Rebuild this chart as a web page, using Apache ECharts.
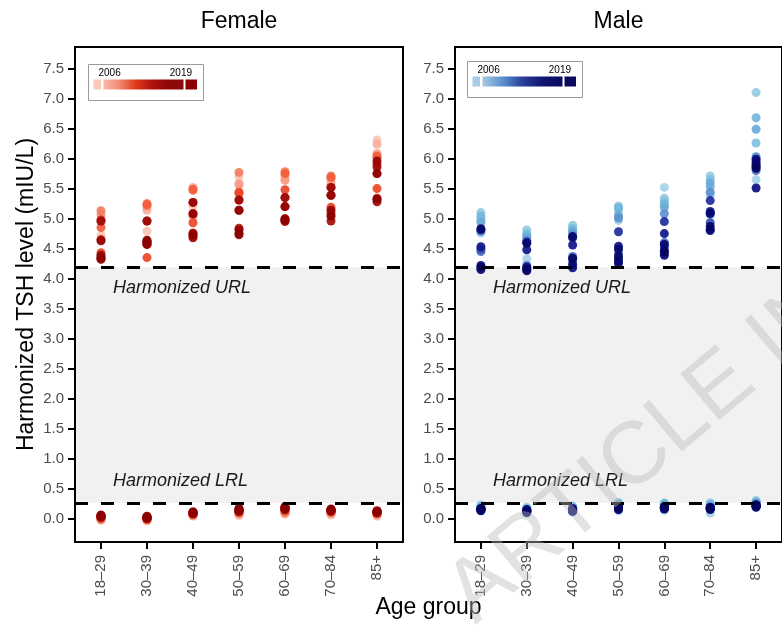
<!DOCTYPE html>
<html><head><meta charset="utf-8">
<script src="https://cdn.jsdelivr.net/npm/echarts@6/dist/echarts.min.js"></script>
<style>html,body{margin:0;padding:0;background:#fff}#c{width:782px;height:627px}</style>
</head><body><div id="c"></div>
<script>
// ---------- data ----------
const ageGroups = ['18–29', '30–39', '40–49', '50–59', '60–69', '70–84', '85+'];
const years = [2006, 2007, 2008, 2009, 2010, 2011, 2012, 2013, 2014, 2015, 2016, 2017, 2018, 2019];
const yTicks = [0, 0.5, 1, 1.5, 2, 2.5, 3, 3.5, 4, 4.5, 5, 5.5, 6, 6.5, 7, 7.5];
const urlValue = 4.2;
const lrlValue = 0.27;

// One array per age group, values in year order 2006..2019
const femaleUpper = [
  [4.73, 4.95, 5.08, 5.14, 4.86, 4.44, 4.99, 4.66, 4.36, 4.33, 4.97, 4.40, 4.64, 4.35],
  [4.80, 5.15, 5.21, 5.26, 5.24, 4.36, 4.97, 4.63, 4.58, 4.60, 4.97, 4.62, 4.58, 4.65],
  [5.21, 5.53, 5.05, 5.48, 5.50, 4.94, 5.28, 5.09, 4.77, 4.72, 4.69, 5.28, 5.09, 4.75],
  [5.71, 5.60, 5.57, 5.78, 5.43, 5.45, 5.32, 5.15, 4.85, 4.74, 5.32, 4.82, 5.15, 4.76],
  [5.68, 5.72, 5.65, 5.79, 5.76, 5.49, 5.36, 5.21, 5.01, 4.96, 5.36, 4.98, 5.21, 5.00],
  [5.64, 5.60, 5.68, 5.72, 5.70, 5.20, 5.53, 5.40, 5.09, 4.97, 5.53, 5.15, 5.40, 5.05],
  [6.32, 6.25, 6.09, 6.03, 6.05, 5.51, 5.92, 5.76, 5.35, 5.29, 5.87, 5.97, 5.76, 5.33]
];
const femaleLower = [
  [-0.02, 0.00, -0.01, 0.02, 0.03, 0.01, 0.04, 0.05, 0.03, 0.06, 0.05, 0.07, 0.04, 0.06],
  [-0.03, -0.02, 0.00, -0.01, 0.01, 0.02, 0.00, 0.03, 0.02, 0.04, 0.01, 0.03, 0.05, 0.02],
  [0.05, 0.06, 0.07, 0.08, 0.07, 0.09, 0.10, 0.11, 0.09, 0.12, 0.10, 0.11, 0.12, 0.10],
  [0.06, 0.08, 0.09, 0.10, 0.12, 0.13, 0.12, 0.15, 0.14, 0.16, 0.13, 0.17, 0.15, 0.18],
  [0.08, 0.10, 0.12, 0.11, 0.14, 0.16, 0.15, 0.17, 0.18, 0.20, 0.16, 0.19, 0.21, 0.18],
  [0.07, 0.09, 0.10, 0.11, 0.12, 0.13, 0.14, 0.15, 0.13, 0.16, 0.14, 0.17, 0.15, 0.16],
  [0.05, 0.06, 0.08, 0.09, 0.10, 0.11, 0.12, 0.10, 0.13, 0.12, 0.14, 0.11, 0.13, 0.12]
];
const maleUpper = [
  [4.77, 5.11, 4.99, 5.05, 4.95, 4.80, 4.46, 4.50, 4.82, 4.54, 4.23, 4.16, 4.84, 4.20],
  [4.34, 4.82, 4.76, 4.73, 4.70, 4.65, 4.23, 4.18, 4.62, 4.49, 4.14, 4.20, 4.60, 4.16],
  [4.78, 4.90, 4.85, 4.82, 4.80, 4.75, 4.38, 4.32, 4.69, 4.57, 4.19, 4.25, 4.71, 4.35],
  [4.98, 5.22, 5.16, 5.19, 5.07, 5.02, 4.43, 4.34, 4.79, 4.55, 4.26, 4.30, 4.50, 4.38],
  [5.53, 5.35, 5.30, 5.25, 5.20, 5.09, 4.61, 4.54, 4.96, 4.76, 4.48, 4.40, 4.58, 4.45],
  [5.40, 5.72, 5.66, 5.54, 5.60, 5.45, 5.08, 4.94, 5.31, 5.13, 4.83, 4.81, 5.10, 4.88],
  [5.66, 7.11, 6.27, 6.69, 6.50, 6.04, 5.81, 5.90, 5.96, 5.87, 5.52, 6.00, 5.92, 5.85]
];
const maleLower = [
  [0.24, 0.22, 0.20, 0.19, 0.21, 0.18, 0.15, 0.16, 0.17, 0.14, 0.18, 0.16, 0.15, 0.17],
  [0.10, 0.20, 0.18, 0.17, 0.15, 0.16, 0.14, 0.12, 0.15, 0.13, 0.16, 0.11, 0.14, 0.13],
  [0.12, 0.22, 0.20, 0.18, 0.19, 0.17, 0.16, 0.14, 0.18, 0.15, 0.17, 0.13, 0.16, 0.15],
  [0.14, 0.28, 0.26, 0.24, 0.25, 0.22, 0.20, 0.18, 0.19, 0.17, 0.20, 0.16, 0.18, 0.19],
  [0.15, 0.27, 0.25, 0.26, 0.23, 0.22, 0.20, 0.19, 0.18, 0.20, 0.17, 0.19, 0.18, 0.21],
  [0.10, 0.27, 0.25, 0.24, 0.22, 0.20, 0.18, 0.17, 0.19, 0.16, 0.18, 0.20, 0.17, 0.19],
  [0.20, 0.31, 0.29, 0.28, 0.27, 0.26, 0.24, 0.22, 0.23, 0.21, 0.24, 0.20, 0.22, 0.23]
];

const femaleColors = ['#fcc5b4', '#f5987e', '#ef5431', '#da2d13', '#a80f0c', '#930505', '#8b0000'];
const maleColors = ['#a8d2e6', '#7cc0de', '#6aa6d6', '#3f5fc0', '#10188c', '#080878', '#06065e'];

// ---------- build ----------
function buildData(upper, lower) {
  const out = [];
  years.forEach((yr, k) => {
    ageGroups.forEach((g, i) => {
      out.push([i, upper[i][k], yr]);
      out.push([i, lower[i][k], yr]);
    });
  });
  return out;
}

const FONT = "'Liberation Sans', Arial, Helvetica, sans-serif";
const xIdx = ageGroups.map((g, i) => i);
const X_MIN = -0.565, X_MAX = ageGroups.length - 1 + 0.565;
const Y_MIN = -0.38, Y_MAX = 7.87;

function xAxisFor(gi) {
  return {
    type: 'value', gridIndex: gi, min: X_MIN, max: X_MAX,
    splitLine: { show: false },
    axisLine: { show: false, onZero: false },
    axisTick: { show: true, length: 7, lineStyle: { color: '#000', width: 2 }, customValues: xIdx },
    axisLabel: {
      customValues: xIdx, formatter: v => ageGroups[Math.round(v)],
      rotate: 90, margin: 13, fontSize: 15, color: '#4d4d4d', fontFamily: FONT
    }
  };
}
function yAxisFor(gi, withName) {
  const a = {
    type: 'value', gridIndex: gi, min: Y_MIN, max: Y_MAX,
    splitLine: { show: false },
    axisLine: { show: false, onZero: false },
    axisTick: { show: true, length: 7, lineStyle: { color: '#000', width: 2 }, customValues: yTicks },
    axisLabel: {
      customValues: yTicks, formatter: v => v.toFixed(1),
      margin: 11, fontSize: 15, color: '#4d4d4d', fontFamily: FONT
    }
  };
  if (withName) {
    a.name = 'Harmonized TSH level (mIU/L)';
    a.nameLocation = 'middle';
    a.nameGap = 37;
    a.nameTextStyle = { fontSize: 23, color: '#000', fontFamily: FONT };
  }
  return a;
}
function refSeries(gi) {
  return {
    type: 'scatter', xAxisIndex: gi, yAxisIndex: gi, data: [], z: 1, silent: true,
    markArea: {
      silent: true, itemStyle: { color: '#f1f1f1' },
      data: [[{ yAxis: lrlValue }, { yAxis: urlValue }]]
    },
    markLine: {
      silent: true, symbol: 'none', animation: false,
      label: { show: false },
      lineStyle: { color: '#000', width: 3, type: [13, 13] },
      data: [{ yAxis: urlValue }, { yAxis: lrlValue }]
    }
  };
}
function pointSeries(gi, data) {
  return {
    type: 'scatter', xAxisIndex: gi, yAxisIndex: gi, data: data, z: 3,
    symbolSize: 9, itemStyle: { opacity: 0.92 }
  };
}

function legendGroup(x0, y0, colors, leftSq, rightSq) {
  const stops = colors.map((c, i) => ({ offset: i / (colors.length - 1), color: c }));
  return {
    type: 'group', x: x0, y: y0, z: 20,
    children: [
      { type: 'rect', shape: { x: 0.5, y: 0.5, width: 115, height: 36 }, style: { fill: '#fff', stroke: '#9a9a9a', lineWidth: 1 } },
      { type: 'text', x: 10.5, y: 9.5, style: { text: String(years[0]), fontSize: 10, fontFamily: FONT, fill: '#000', textAlign: 'left', textVerticalAlign: 'middle' } },
      { type: 'text', x: 104, y: 9.5, style: { text: String(years[years.length - 1]), fontSize: 10, fontFamily: FONT, fill: '#000', textAlign: 'right', textVerticalAlign: 'middle' } },
      { type: 'rect', shape: { x: 5.5, y: 15.5, width: 7.5, height: 10 }, style: { fill: leftSq } },
      { type: 'rect', shape: { x: 15.5, y: 15.5, width: 80, height: 10 }, style: { fill: new echarts.graphic.LinearGradient(0, 0, 1, 0, stops) } },
      { type: 'rect', shape: { x: 97.5, y: 15.5, width: 11.5, height: 10 }, style: { fill: rightSq } }
    ]
  };
}

const chart = echarts.init(document.getElementById('c'), null, { renderer: 'canvas' });
const gridCommon = { top: 47, height: 495, width: 328, show: true, borderColor: '#000', borderWidth: 2, backgroundColor: 'transparent', z: 10, containLabel: false };

chart.setOption({
  animation: false,
  backgroundColor: '#fff',
  grid: [Object.assign({ left: 75 }, gridCommon), Object.assign({ left: 455 }, gridCommon)],
  xAxis: [xAxisFor(0), xAxisFor(1)],
  yAxis: [yAxisFor(0, true), yAxisFor(1, false)],
  visualMap: [
    { type: 'continuous', show: false, seriesIndex: 2, dimension: 2, min: years[0], max: years[years.length - 1], inRange: { color: femaleColors } },
    { type: 'continuous', show: false, seriesIndex: 3, dimension: 2, min: years[0], max: years[years.length - 1], inRange: { color: maleColors } }
  ],
  series: [
    refSeries(0), refSeries(1),
    pointSeries(0, buildData(femaleUpper, femaleLower)),
    pointSeries(1, buildData(maleUpper, maleLower))
  ]
});

// annotations positioned through the axes
function px(gi, x, y) { return chart.convertToPixel({ xAxisIndex: gi, yAxisIndex: gi }, [x, y]); }
const graphics = [];
[0, 1].forEach(gi => {
  const left = px(gi, X_MIN, 0)[0];
  const right = px(gi, X_MAX, 0)[0];
  const top = px(gi, 0, Y_MAX)[1];
  graphics.push({ type: 'text', x: (left + right) / 2, y: top - 25, z: 30,
    style: { text: gi === 0 ? 'Female' : 'Male', fontSize: 23, fontFamily: FONT, fill: '#000', textAlign: 'center', textVerticalAlign: 'middle' } });
  graphics.push({ type: 'text', x: left + 38, y: px(gi, 0, urlValue)[1] + 21, z: 30,
    style: { text: 'Harmonized URL', fontSize: 18, fontStyle: 'italic', fontFamily: FONT, fill: '#1a1a1a', textAlign: 'left', textVerticalAlign: 'middle' } });
  graphics.push({ type: 'text', x: left + 38, y: px(gi, 0, lrlValue)[1] - 22, z: 30,
    style: { text: 'Harmonized LRL', fontSize: 18, fontStyle: 'italic', fontFamily: FONT, fill: '#1a1a1a', textAlign: 'left', textVerticalAlign: 'middle' } });
});
const leftA = px(0, X_MIN, 0)[0], rightB = px(1, X_MAX, 0)[0];
graphics.push({ type: 'text', x: (leftA + rightB) / 2, y: 608, z: 30,
  style: { text: 'Age group', fontSize: 23, fontFamily: FONT, fill: '#000', textAlign: 'center', textVerticalAlign: 'middle' } });
graphics.push(legendGroup(88, 64, ['#f6b9a8', '#f08a70', '#e03a1a', '#b0140e', '#900808', '#8b0a0a'], '#fcc8b8', '#8b0000'));
graphics.push(legendGroup(467, 61, ['#a6cae4', '#5b92cd', '#2a3f9a', '#121670', '#0a0a60'], '#a8cce4', '#0a0a5a'));
graphics.push({ type: 'text', x: 488, y: 640, rotation: 40 * Math.PI / 180, z: 50, silent: true,
  style: { text: 'ARTICLE IN PRESS', fontSize: 88, fontFamily: FONT, fill: 'rgba(185,185,185,0.42)', textAlign: 'left', textVerticalAlign: 'bottom' } });
chart.setOption({ graphic: graphics });
</script></body></html>
